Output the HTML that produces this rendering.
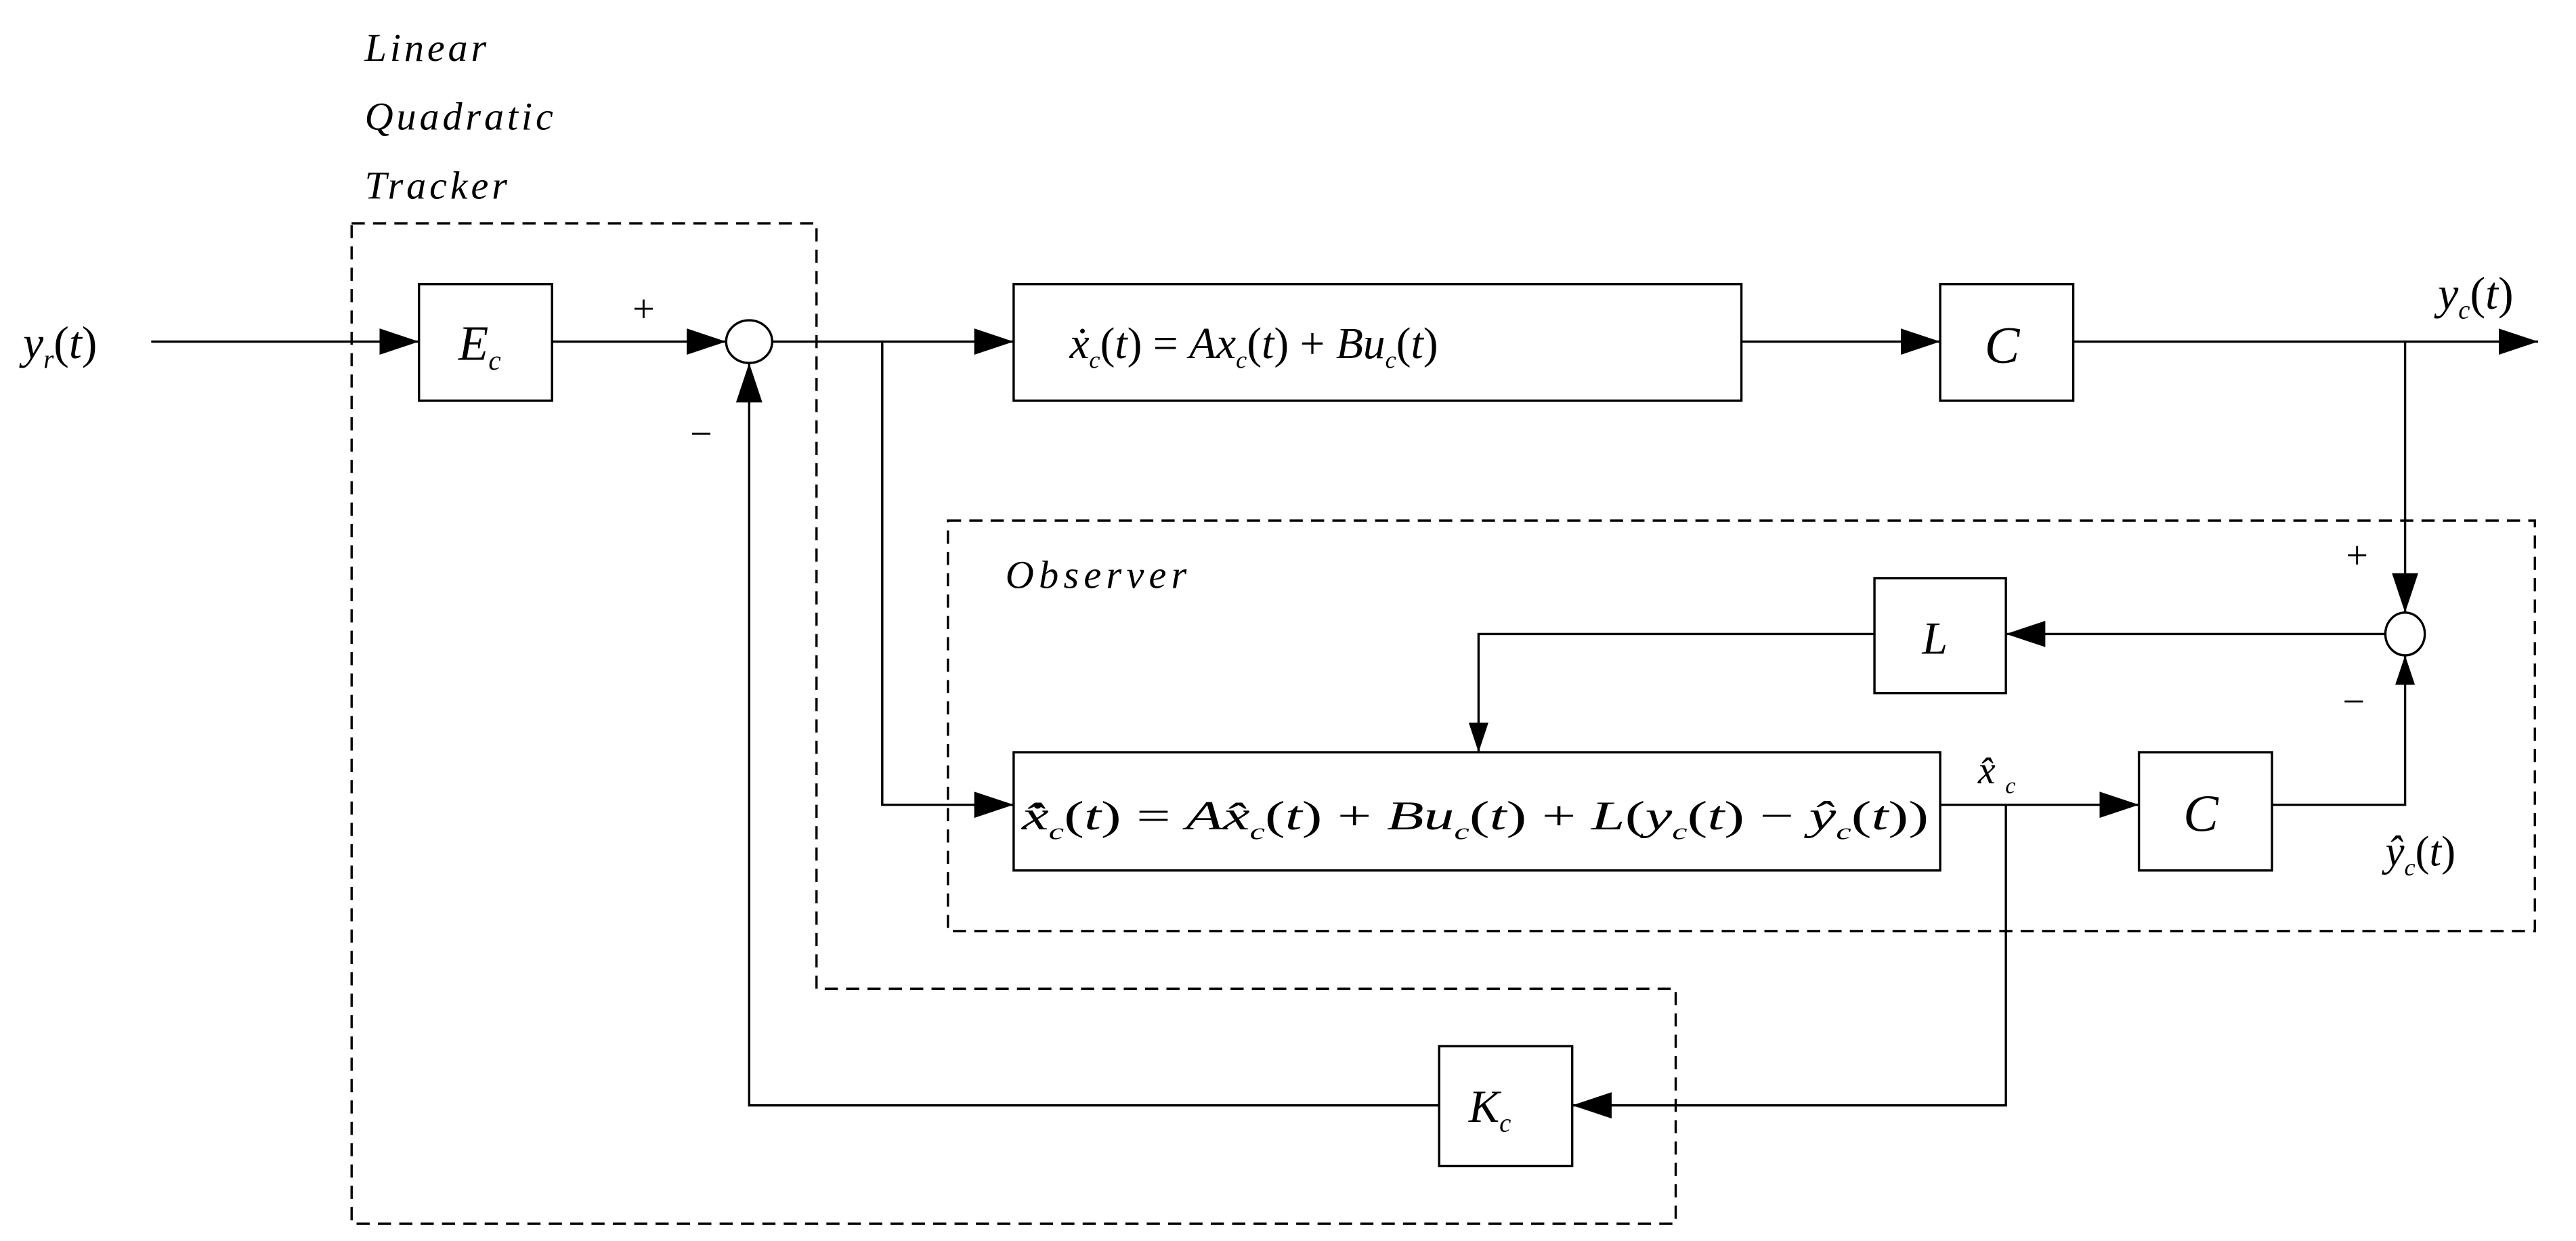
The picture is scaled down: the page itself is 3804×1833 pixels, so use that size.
<!DOCTYPE html>
<html><head><meta charset="utf-8"><style>
html,body{margin:0;padding:0;background:#fff;}
svg{display:block;}
text{font-family:"Liberation Serif",serif;font-style:italic;fill:#000;}
.n{font-style:normal;}
</style></head><body>
<svg width="3804" height="1833" viewBox="0 0 1568 755.6" xmlns="http://www.w3.org/2000/svg">
<defs>
<marker id="a" markerWidth="24" markerHeight="16" refX="24" refY="8" orient="auto" markerUnits="userSpaceOnUse">
<path d="M0,0 L24,8 L0,16 Z" fill="#000"/></marker>
<marker id="s" markerWidth="18" markerHeight="12" refX="18" refY="6" orient="auto" markerUnits="userSpaceOnUse">
<path d="M0,0 L18,6 L0,12 Z" fill="#000"/></marker>
</defs>
<g fill="none" stroke="#000" stroke-width="1.4" stroke-dasharray="8,5">
<path d="M214,136 H497 V602 H1020 V745 H214 Z"/>
<rect x="577" y="317" width="966" height="250"/>
</g>
<g fill="none" stroke="#000" stroke-width="1.4">
<rect x="255" y="173" width="81" height="71"/>
<rect x="617" y="173" width="443" height="71"/>
<rect x="1181" y="173" width="81" height="71"/>
<rect x="1141" y="352" width="80" height="70"/>
<rect x="617" y="458" width="564" height="72"/>
<rect x="1302" y="458" width="81" height="72"/>
<rect x="876" y="637" width="81" height="73"/>
<ellipse cx="456" cy="208" rx="14" ry="13"/>
<ellipse cx="1464" cy="386" rx="12" ry="13"/>
<line x1="92" y1="208" x2="255" y2="208" marker-end="url(#a)"/>
<line x1="336" y1="208" x2="442" y2="208" marker-end="url(#a)"/>
<line x1="470" y1="208" x2="617" y2="208" marker-end="url(#a)"/>
<polyline points="537,208 537,490 617,490" marker-end="url(#a)"/>
<line x1="1060" y1="208" x2="1181" y2="208" marker-end="url(#a)"/>
<line x1="1262" y1="208" x2="1545" y2="208" marker-end="url(#a)"/>
<line x1="1464" y1="208" x2="1464" y2="373" marker-end="url(#a)"/>
<line x1="1452" y1="386" x2="1221" y2="386" marker-end="url(#a)"/>
<polyline points="1141,386 900,386 900,458" marker-end="url(#s)"/>
<line x1="1181" y1="490" x2="1302" y2="490" marker-end="url(#a)"/>
<polyline points="1383,490 1464,490 1464,399" marker-end="url(#s)"/>
<polyline points="1221,490 1221,673 957,673" marker-end="url(#a)"/>
<polyline points="876,673 456,673 456,221" marker-end="url(#a)"/>
</g>
<text x="222" y="37" font-size="24" letter-spacing="2">Linear</text>
<text x="222" y="79" font-size="24" letter-spacing="2">Quadratic</text>
<text x="222" y="121" font-size="24" letter-spacing="2">Tracker</text>
<text x="612" y="358" font-size="24" letter-spacing="3">Observer</text>
<text x="14" y="218" font-size="28">y<tspan font-size="16" dy="6">r</tspan><tspan dy="-6" class="n">(</tspan>t<tspan class="n">)</tspan></text>
<text x="279" y="219" font-size="30">E<tspan font-size="17" dy="6">c</tspan></text>
<text x="385" y="196" font-size="24" class="n">+</text>
<text x="420" y="272" font-size="24" class="n">−</text>
<text x="651" y="218" font-size="27">ẋ<tspan font-size="15" dy="6">c</tspan><tspan dy="-6" class="n">(</tspan>t<tspan class="n">) = </tspan>Ax<tspan font-size="15" dy="6">c</tspan><tspan dy="-6" class="n">(</tspan>t<tspan class="n">) + </tspan>Bu<tspan font-size="15" dy="6">c</tspan><tspan dy="-6" class="n">(</tspan>t<tspan class="n">)</tspan></text>
<text x="1208" y="221" font-size="32">C</text>
<text x="1484" y="188" font-size="28">y<tspan font-size="16" dy="6">c</tspan><tspan dy="-6" class="n">(</tspan>t<tspan class="n">)</tspan></text>
<text x="1428" y="346" font-size="24" class="n">+</text>
<text x="1426" y="435" font-size="24" class="n">−</text>
<text x="1170" y="398" font-size="28">L</text>
<text x="622" y="505" font-size="25" textLength="552" lengthAdjust="spacingAndGlyphs">x̂̇<tspan font-size="14" dy="6">c</tspan><tspan dy="-6" class="n">(</tspan>t<tspan class="n">) = </tspan>Ax̂<tspan font-size="14" dy="6">c</tspan><tspan dy="-6" class="n">(</tspan>t<tspan class="n">) + </tspan>Bu<tspan font-size="14" dy="6">c</tspan><tspan dy="-6" class="n">(</tspan>t<tspan class="n">) + </tspan>L<tspan class="n">(</tspan>y<tspan font-size="14" dy="6">c</tspan><tspan dy="-6" class="n">(</tspan>t<tspan class="n">) − </tspan>ŷ<tspan font-size="14" dy="6">c</tspan><tspan dy="-6" class="n">(</tspan>t<tspan class="n">))</tspan></text>
<text x="1204" y="477" font-size="24">x̂ <tspan font-size="14" dy="6">c</tspan></text>
<text x="1329" y="506" font-size="32">C</text>
<text x="1452" y="527" font-size="26">ŷ<tspan font-size="15" dy="6">c</tspan><tspan dy="-6" class="n">(</tspan>t<tspan class="n">)</tspan></text>
<text x="894" y="683" font-size="28">K<tspan font-size="16" dy="6">c</tspan></text>
</svg>
</body></html>
